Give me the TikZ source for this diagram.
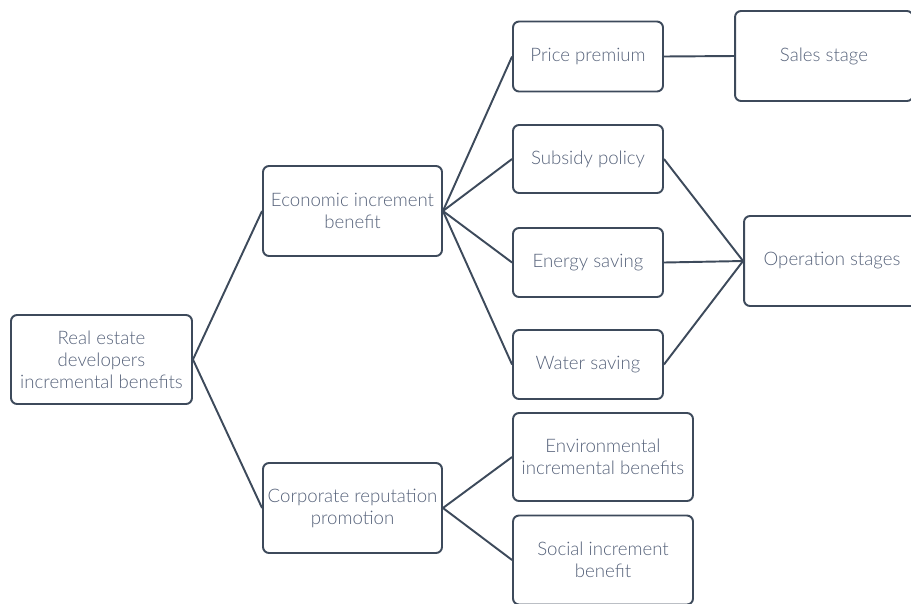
\documentclass[tikz,border=0pt]{standalone}
\usepackage{fontspec}
\setmainfont{Lato}[UprightFont=* Light]
\usetikzlibrary{positioning}
\definecolor{boxline}{HTML}{3D4A5B}
\definecolor{boxtext}{HTML}{56627A}
\tikzset{
	benefit/.style={draw=boxline, line width=1.1pt, rounded corners=0.12cm, text=boxtext, align=center,
		font=\fontsize{10.6}{12.6}\selectfont, inner sep=0pt},
	link/.style={draw=boxline, line width=1.1pt}
}
\begin{document}
\begin{tikzpicture}[x=0.02cm,y=-0.02cm]
	\useasboundingbox (0,0) rectangle (911,603);

	\node[benefit, minimum width=3.62cm, minimum height=1.78cm] (root) at (101.5,359.5) {Real estate\\developers\\incremental benefits};

	\node[benefit, minimum width=3.58cm, minimum height=1.8cm] (econ) at (352.5,211) {Economic increment\\benefit};
	\node[benefit, minimum width=3.58cm, minimum height=1.8cm] (corp) at (352.5,508) {Corporate reputation\\promotion};

	\node[benefit, minimum width=3.0cm, minimum height=1.4cm] (price) at (588,56.5) {Price premium};
	\node[benefit, minimum width=3.0cm, minimum height=1.36cm] (subsidy) at (588,159) {Subsidy policy};
	\node[benefit, minimum width=3.0cm, minimum height=1.38cm] (energy) at (588,262.5) {Energy saving};
	\node[benefit, minimum width=3.0cm, minimum height=1.38cm] (water) at (588,364.5) {Water saving};

	\node[benefit, minimum width=3.6cm, minimum height=1.76cm] (envir) at (603,457) {Environmental\\incremental benefits};
	\node[benefit, minimum width=3.6cm, minimum height=1.78cm] (social) at (603,560) {Social increment\\benefit};

	\node[benefit, minimum width=3.56cm, minimum height=1.8cm] (sales) at (824,56) {Sales stage};
	\node[benefit, minimum width=3.52cm, minimum height=1.8cm] (operation) at (832,261) {Operation stages};

	\draw[link] (root.east) -- (econ.west);
	\draw[link] (root.east) -- (corp.west);

	\foreach \n in {price,subsidy,energy,water}
		\draw[link] (econ.east) -- (\n.west);

	\draw[link] (corp.east) -- (envir.west);
	\draw[link] (corp.east) -- (social.west);

	\draw[link] (price.east) -- (sales.west);

	\foreach \n in {subsidy,energy,water}
		\draw[link] (\n.east) -- (operation.west);

\end{tikzpicture}
\end{document}
